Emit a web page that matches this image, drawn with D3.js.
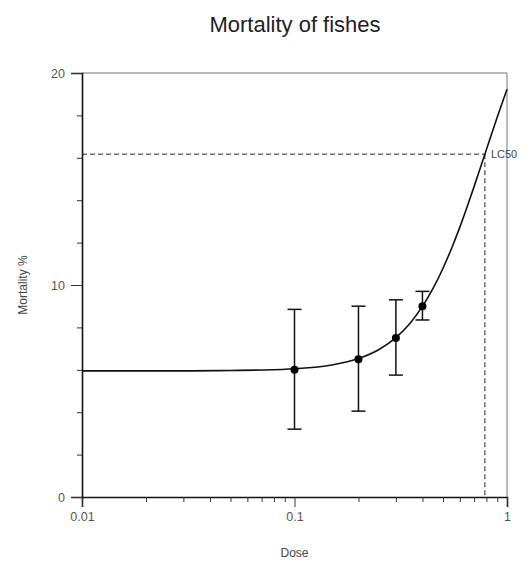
<!DOCTYPE html>
<html>
<head>
<meta charset="utf-8">
<script src="https://cdn.jsdelivr.net/npm/d3@7"></script>
<style>
  body { margin: 0; background: #fff; }
  text { font-family: "Liberation Sans", Arial, sans-serif; }
</style>
</head>
<body>
<div id="viz"></div>
<script>
// measured points with error bars
const doses = [0.1, 0.2, 0.3, 0.4];
const mortality = [6.0, 6.5, 7.5, 9.0];
const errLow = [3.2, 4.05, 5.75, 8.35];
const errHigh = [8.85, 9.0, 9.3, 9.7];

// fitted curve
const curveDose = [0.01, 0.02, 0.03, 0.05, 0.07, 0.1, 0.15, 0.2, 0.25, 0.3, 0.35, 0.4, 0.45, 0.5,
  0.55, 0.6, 0.65, 0.7, 0.75, 0.8, 0.85, 0.9, 0.95, 1.0];
const curveMort = [5.95, 5.95, 5.95, 5.97, 5.99, 6.05, 6.23, 6.53, 6.96, 7.52, 8.2, 8.99, 9.86, 10.79,
  11.76, 12.73, 13.7, 14.64, 15.54, 16.39, 17.18, 17.92, 18.6, 19.23];

const lc50Dose = 0.787;
const lc50Mort = 16.17;

const xMajor = [0.01, 0.1, 1];
const xMinor = [0.02, 0.03, 0.04, 0.05, 0.06, 0.07, 0.08, 0.09, 0.2, 0.3, 0.4, 0.5, 0.6, 0.7, 0.8, 0.9];
const yMajor = [0, 10, 20];
const yMinor = [2, 4, 6, 8, 12, 14, 16, 18];

const SETTINGS = { width: 527, height: 561, left: 82, right: 20, top: 73, bottom: 64 };

const svg = d3.select("#viz").append("svg")
  .attr("width", SETTINGS.width)
  .attr("height", SETTINGS.height);

const x = d3.scaleLog().domain([0.01, 1]).range([SETTINGS.left, SETTINGS.width - SETTINGS.right]);
const y = d3.scaleLinear().domain([0, 20]).range([SETTINGS.height - SETTINGS.bottom, SETTINGS.top]);

// frame top/right
svg.append("path")
  .attr("d", `M${x(0.01)},${y(20)}H${x(1)}V${y(0)}`)
  .attr("fill", "none").attr("stroke", "#777").attr("stroke-width", 1);

// axes
svg.append("g").attr("transform", `translate(0,${y(0)})`)
  .call(d3.axisBottom(x).tickValues(xMajor).tickSize(10).tickPadding(5).tickFormat(d3.format("~g")));
svg.append("g").attr("transform", `translate(0,${y(0)})`)
  .call(d3.axisBottom(x).tickValues(xMinor).tickSize(5).tickFormat(""))
  .call(g => g.select(".domain").remove());

svg.append("g").attr("transform", `translate(${x(0.01)},0)`)
  .call(d3.axisLeft(y).tickValues(yMajor).tickSize(11).tickPadding(6));
svg.append("g").attr("transform", `translate(${x(0.01)},0)`)
  .call(d3.axisLeft(y).tickValues(yMinor).tickSize(5).tickFormat(""))
  .call(g => g.select(".domain").remove());

svg.selectAll(".domain").attr("stroke", "#111").attr("stroke-width", 1.6);
svg.selectAll(".tick line").attr("stroke", "#333").attr("stroke-width", 1);
svg.selectAll(".tick text").attr("font-size", 12.5).attr("fill", "#555")
  .attr("font-family", "'Liberation Sans', Arial, sans-serif");

// LC50 dashed guides
svg.append("line")
  .attr("x1", x(0.01)).attr("x2", x(lc50Dose))
  .attr("y1", y(lc50Mort)).attr("y2", y(lc50Mort))
  .attr("stroke", "#222").attr("stroke-width", 1).attr("stroke-dasharray", "5,3");
svg.append("line")
  .attr("x1", x(lc50Dose)).attr("x2", x(lc50Dose))
  .attr("y1", y(lc50Mort)).attr("y2", y(0))
  .attr("stroke", "#222").attr("stroke-width", 1).attr("stroke-dasharray", "5,3");
svg.append("text")
  .attr("x", x(lc50Dose) + 6).attr("y", y(lc50Mort) + 4)
  .attr("font-size", 11).attr("fill", "#444")
  .text("LC50");

// fitted curve
const line = d3.line()
  .x(i => x(curveDose[i]))
  .y(i => y(curveMort[i]))
  .curve(d3.curveMonotoneX);
svg.append("path")
  .attr("d", line(d3.range(curveDose.length)))
  .attr("fill", "none").attr("stroke", "#111").attr("stroke-width", 1.6);

// error bars
const bars = svg.selectAll(".err").data(doses).enter().append("g").attr("class", "err");
bars.append("line")
  .attr("x1", d => x(d)).attr("x2", d => x(d))
  .attr("y1", (d, i) => y(errLow[i])).attr("y2", (d, i) => y(errHigh[i]))
  .attr("stroke", "#111").attr("stroke-width", 1.5);
bars.append("line")
  .attr("x1", d => x(d) - 7).attr("x2", d => x(d) + 7)
  .attr("y1", (d, i) => y(errLow[i])).attr("y2", (d, i) => y(errLow[i]))
  .attr("stroke", "#111").attr("stroke-width", 1.5);
bars.append("line")
  .attr("x1", d => x(d) - 7).attr("x2", d => x(d) + 7)
  .attr("y1", (d, i) => y(errHigh[i])).attr("y2", (d, i) => y(errHigh[i]))
  .attr("stroke", "#111").attr("stroke-width", 1.5);

svg.selectAll(".pt").data(doses).enter().append("circle")
  .attr("class", "pt")
  .attr("cx", d => x(d))
  .attr("cy", (d, i) => y(mortality[i]))
  .attr("r", 4)
  .attr("fill", "#000");

// titles
svg.append("text")
  .attr("x", 295).attr("y", 32)
  .attr("text-anchor", "middle").attr("font-size", 22).attr("fill", "#222")
  .text("Mortality of fishes");
svg.append("text")
  .attr("x", x(0.1)).attr("y", 557)
  .attr("text-anchor", "middle").attr("font-size", 12).attr("fill", "#444")
  .text("Dose");
svg.append("text")
  .attr("transform", `translate(27,${y(10)}) rotate(-90)`)
  .attr("text-anchor", "middle").attr("font-size", 12).attr("fill", "#444")
  .text("Mortality %");
</script>
</body>
</html>
